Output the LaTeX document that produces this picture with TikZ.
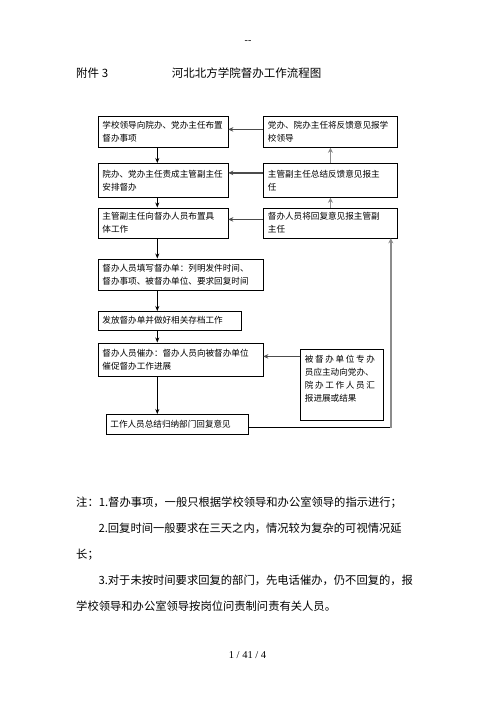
\documentclass[tikz,border=0pt]{standalone}
\usepackage{fontspec}
\setmainfont{Liberation Serif}
\newfontfamily\cjk{Noto Sans CJK SC}
\XeTeXlinebreaklocale "zh"
\XeTeXlinebreakskip=0pt plus 1pt
\usetikzlibrary{arrows.meta}
\definecolor{dg}{gray}{0.3}
\definecolor{lg}{gray}{0.55}
\begin{document}
\begin{tikzpicture}[x=1pt,y=-1pt,
  box/.style={draw, line width=0.8pt, anchor=north west, align=left, inner xsep=4.5pt, inner ysep=1pt,
    font=\cjk\fontsize{8.6}{12.8}\selectfont},
  txt/.style={anchor=west, inner sep=0pt},
  note/.style={txt, font=\cjk\fontsize{11.3}{14}\selectfont},
  darr/.style={-{Stealth[length=5pt,width=4pt]}, line width=0.8pt},
  harr/.style={-{Stealth[length=5pt,width=4.5pt]}, line width=1.3pt, draw=dg},
  uarr/.style={-{Stealth[length=5pt,width=5pt]}, line width=1.8pt, draw=lg}]
\fill[white] (0,0) rectangle (496,702);
\useasboundingbox (0,0) rectangle (496,702);

% header
\node[txt, anchor=center, font=\fontsize{10}{12}\selectfont] (dash) at (248,42) {-{}-};
\node[txt, font=\cjk\fontsize{11.5}{14}\selectfont] (att) at (76,73) {附件 3};
\node[txt, font=\cjk\fontsize{11.5}{14}\selectfont] (title) at (171.7,73) {河北北方学院督办工作流程图};

% left column
\node[box, text width=121pt, minimum height=31pt] (A) at (97.5,116) {学校领导向院办、党办主任布置\\督办事项};
\node[box, text width=121pt, minimum height=34pt] (C) at (97.5,163) {院办、党办主任责成主管副主任\\安排督办};
\node[box, text width=121pt, minimum height=30pt] (E) at (97.5,207.5) {主管副主任向督办人员布置具\\体工作};
\node[box, text width=156pt, minimum height=31.5pt] (G) at (97.5,258.5) {督办人员填写督办单：列明发件时间、\\督办事项、被督办单位、要求回复时间};
\node[box, text width=134pt, minimum height=18.5pt] (H) at (97.5,311) {发放督办单并做好相关存档工作};
\node[box, text width=156pt, minimum height=33pt] (I) at (97.5,342.5) {督办人员催办：督办人员向被督办单位\\催促督办工作进展};
\node[box, text width=133pt, minimum height=19.5pt] (K) at (105.5,414) {工作人员总结归纳部门回复意见};

% right column
\node[box, text width=125pt, minimum height=31pt] (B) at (263,116) {\makebox[121pt][s]{党办、院办主任将反馈意见报学}\\校领导};
\node[box, text width=125pt, minimum height=34pt] (D) at (263,163) {\makebox[121pt][s]{主管副主任总结反馈意见报主}\\任};
\node[box, text width=125pt, minimum height=30pt] (F) at (263,207.5) {\makebox[121pt][s]{督办人员将回复意见报主管副}\\主任};
\node[box, text width=74pt, minimum height=71pt] (J) at (300,349) {\makebox[70pt][s]{被\hfill 督\hfill 办\hfill 单\hfill 位\hfill 专\hfill 办}\\员应主动向党办、\\\makebox[70pt][s]{院\hfill 办\hfill 工\hfill 作\hfill 人\hfill 员\hfill 汇}\\报进展或结果\\\mbox{}};

% down arrows
\draw[darr] ([xshift=59.8pt]A.south west) -- ([xshift=59.8pt]C.north west);
\draw[darr] ([xshift=59.8pt]C.south west) -- ([xshift=59.8pt]E.north west);
\draw[darr] ([xshift=59.8pt]E.south west) -- ([xshift=59.8pt]G.north west);
\draw[darr] ([xshift=59.8pt]G.south west) -- ([xshift=59.8pt]H.north west);
\draw[darr] ([xshift=59.8pt]H.south west) -- ([xshift=59.8pt]I.north west);
\draw[darr] ([xshift=59.8pt]I.south west) -- ([xshift=51.8pt]K.north west);

% horizontal arrows
\draw[harr] ([yshift=2.5pt]B.west) -- ([yshift=2.5pt]A.east);
\draw[harr] ([yshift=7.5pt]D.west) -- ([yshift=7.5pt]C.east);
\draw[harr] ([yshift=3.5pt]F.west) -- ([yshift=3.5pt]E.east);
\coordinate (iE) at ([yshift=3pt]I.east);
\draw[harr] (iE -| J.west) -- (iE);

% up arrows
\draw[uarr] (D.north) -- (B.south);
\draw[uarr] (F.north) -- (D.south);

% feedback line
\coordinate (kE) at ([yshift=-3.5pt]K.east);
\coordinate (fS) at ([xshift=-7pt]F.south east);
\draw[line width=0.8pt] (kE) -- (kE -| fS);
\draw[uarr] ([yshift=-0.4pt]kE -| fS) -- (fS);

% notes
\node[note] (n1) at (76,502.7) {注：1.督办事项，一般只根据学校领导和办公室领导的指示进行；};
\node[note] (n2) at (98.3,528.3) {\makebox[322pt][s]{2.回复时间一般要求在三天之内，情况较为复杂的可视情况延}};
\node[note] (n3) at (76,555) {长；};
\node[note] (n4) at (98.3,580) {\makebox[322pt][s]{3.对于未按时间要求回复的部门，先电话催办，仍不回复的，报}};
\node[note] (n5) at (76,606) {学校领导和办公室领导按岗位问责制问责有关人员。};

\node[txt, anchor=center, font=\fontsize{10.5}{12}\selectfont] (pg) at (247.5,655) {1 / 41 / 4};
\end{tikzpicture}
\end{document}
